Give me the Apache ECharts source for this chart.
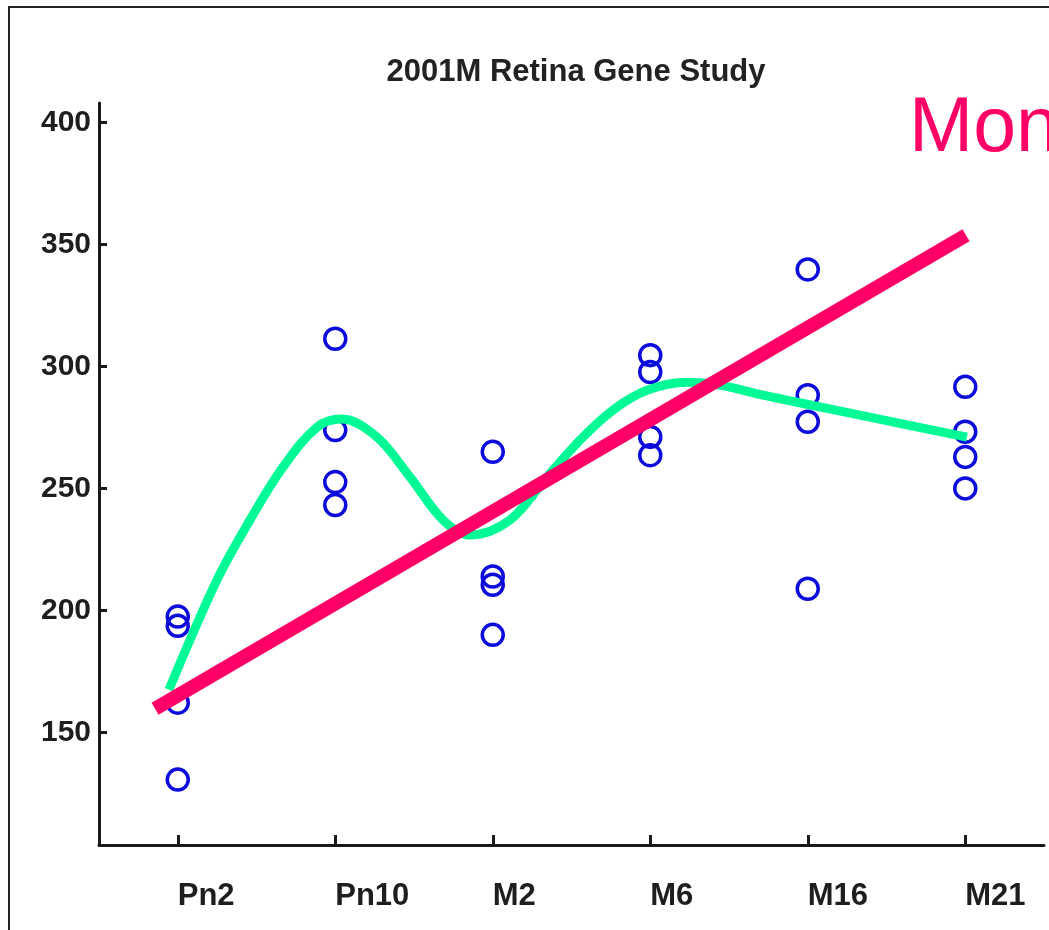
<!DOCTYPE html>
<html>
<head>
<meta charset="utf-8">
<title>2001M Retina Gene Study</title>
<script src="https://cdn.jsdelivr.net/npm/echarts@6/dist/echarts.min.js"></script>
<style>
  html, body { margin: 0; padding: 0; background: #fff; }
  #chart { width: 1049px; height: 930px; }
</style>
</head>
<body>
<div id="chart"></div>
<script>
// Sample groups along the x axis
const categories = ['Pn2', 'Pn10', 'M2', 'M6', 'M16', 'M21'];

// Individual measurements for each group
const pn2Values  = [197.6, 193.8, 162.3, 130.8];
const pn10Values = [311.4, 274.0, 252.7, 243.3];
const m2Values   = [265.1, 214.0, 210.6, 190.1];
const m6Values   = [304.7, 297.8, 271.2, 263.7];
const m16Values  = [339.8, 288.3, 277.4, 209.0];
const m21Values  = [291.7, 273.3, 263.0, 250.1];

// Smooth trend curve, [position, value]
const trendCurve = [
  [0.944, 167.6], [1.249, 212.6], [1.459, 237.2], [1.668, 258.8],
  [1.884, 275.2], [2.043, 278.5], [2.265, 271.1], [2.475, 254.7],
  [2.684, 237.2], [2.856, 231.0], [3.110, 237.2], [3.344, 254.7],
  [3.554, 269.9], [3.763, 282.2], [3.979, 290.3], [4.233, 293.6],
  [4.443, 292.4], [4.716, 288.3], [4.932, 285.4], [5.500, 277.9],
  [6.011, 271.1]
];

// Straight monotonic fit, [position, value]
const monotonicLine = [[0.856, 159.8], [6.005, 353.8]];

// Y axis tick labels
const yTicks = [150, 200, 250, 300, 350, 400];

const groups = [pn2Values, pn10Values, m2Values, m6Values, m16Values, m21Values];
const scatterData = [];
groups.forEach((vals, i) => {
  vals.forEach(v => scatterData.push([categories[i], v]));
});

const FONT = 'Liberation Sans';
const INK = '#1a1a1a';

const chart = echarts.init(document.getElementById('chart'), null, { renderer: 'canvas' });

chart.setOption({
  backgroundColor: '#ffffff',
  animation: false,
  title: {
    text: '2001M Retina Gene Study',
    left: 571,
    textAlign: 'center',
    top: 52,
    textStyle: { fontFamily: FONT, fontSize: 31, fontWeight: 'bold', color: '#222' }
  },
  grid: { left: 99, right: 5, top: 103, bottom: 85, containLabel: false },
  xAxis: [
    {
      type: 'category',
      data: categories,
      boundaryGap: true,
      axisLine: { show: true, lineStyle: { color: INK, width: 3 } },
      axisTick: { show: true, inside: true, length: 10, alignWithLabel: true, lineStyle: { color: INK, width: 3 } },
      axisLabel: {
        align: 'left',
        margin: 36,
        fontFamily: FONT, fontSize: 31, fontWeight: 'bold', color: '#1e1e1e'
      },
      splitLine: { show: false }
    },
    {
      type: 'value',
      min: 0.5,
      max: 6.5,
      show: false
    }
  ],
  yAxis: {
    type: 'value',
    min: 104,
    max: 408,
    axisLine: { show: true, lineStyle: { color: INK, width: 3 } },
    axisTick: {
      show: true, inside: true, length: 8,
      customValues: yTicks,
      lineStyle: { color: INK, width: 3 }
    },
    axisLabel: {
      customValues: yTicks,
      margin: 8,
      fontFamily: FONT, fontSize: 30, fontWeight: 'bold', color: '#1e1e1e'
    },
    splitLine: { show: false }
  },
  series: [
    {
      name: 'samples',
      type: 'scatter',
      xAxisIndex: 0,
      data: scatterData,
      symbol: 'circle',
      symbolSize: 21,
      itemStyle: { color: 'rgba(0,0,0,0)', borderColor: '#0b0bdc', borderWidth: 3.5, opacity: 1 },
      z: 2
    },
    {
      name: 'trend',
      type: 'line',
      xAxisIndex: 1,
      data: trendCurve,
      smooth: 0.35,
      showSymbol: false,
      lineStyle: { color: '#00fa96', width: 9, cap: 'butt' },
      z: 3
    },
    {
      name: 'monotonic',
      type: 'line',
      xAxisIndex: 1,
      data: monotonicLine,
      showSymbol: false,
      lineStyle: { color: '#ff0066', width: 14, cap: 'butt' },
      z: 4
    }
  ],
  graphic: [
    {
      type: 'rect',
      shape: { x: 9, y: 7, width: 1200, height: 1200 },
      style: { fill: 'none', stroke: '#222', lineWidth: 2 },
      silent: true
    },
    {
      type: 'text',
      left: 909,
      top: 91,
      style: {
        text: 'Mon',
        fontFamily: FONT,
        fontSize: 77,
        fill: '#ff0066'
      },
      silent: true
    }
  ]
});
</script>
</body>
</html>
